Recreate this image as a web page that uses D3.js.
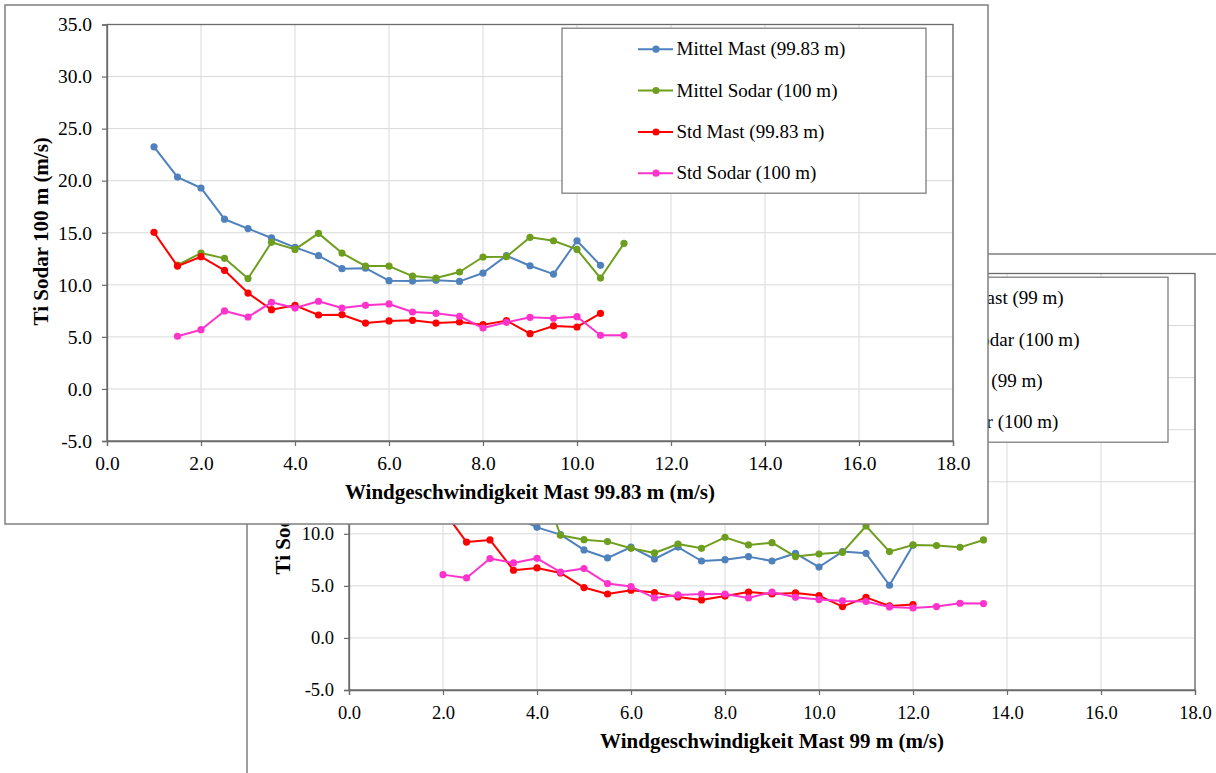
<!DOCTYPE html>
<html>
<head>
<meta charset="utf-8">
<script src="https://cdn.jsdelivr.net/npm/d3@7"></script>
<style>
  html, body { margin: 0; padding: 0; background: #ffffff; }
  svg { display: block; }
  text { font-family: "Liberation Serif", "Times New Roman", serif; fill: #000; }
</style>
</head>
<body>
<svg id="chart" width="1216" height="773"></svg>
<script>
// ---------- tick values ----------
const xTickValues = [0, 2, 4, 6, 8, 10, 12, 14, 16, 18];
const yTickValues = [-5, 0, 5, 10, 15, 20, 25, 30, 35];

// ---------- front chart (Mast 99.83 m) ----------
const frontMastMittelX = [1.0,1.5,2.0,2.5,3.0,3.5,4.0,4.5,5.0,5.5,6.0,6.5,7.0,7.5,8.0,8.5,9.0,9.5,10.0,10.5];
const frontMastMittelY = [23.25,20.35,19.3,16.3,15.4,14.5,13.6,12.8,11.55,11.6,10.4,10.36,10.45,10.33,11.13,12.8,11.83,11.03,14.23,11.87];
const frontSodarMittelX = [1.5,2.0,2.5,3.0,3.5,4.0,4.5,5.0,5.5,6.0,6.5,7.0,7.5,8.0,8.5,9.0,9.5,10.0,10.5,11.0];
const frontSodarMittelY = [11.9,13.05,12.54,10.6,14.08,13.4,14.94,13.05,11.8,11.8,10.84,10.65,11.23,12.67,12.7,14.56,14.23,13.4,10.65,13.98];
const frontMastStdX = [1.0,1.5,2.0,2.5,3.0,3.5,4.0,4.5,5.0,5.5,6.0,6.5,7.0,7.5,8.0,8.5,9.0,9.5,10.0,10.5];
const frontMastStdY = [15.04,11.8,12.7,11.39,9.21,7.61,8.03,7.1,7.13,6.33,6.53,6.59,6.33,6.43,6.17,6.56,5.31,6.05,5.95,7.26];
const frontSodarStdX = [1.5,2.0,2.5,3.0,3.5,4.0,4.5,5.0,5.5,6.0,6.5,7.0,7.5,8.0,8.5,9.0,9.5,10.0,10.5,11.0];
const frontSodarStdY = [5.06,5.69,7.49,6.91,8.32,7.77,8.42,7.77,8.03,8.16,7.39,7.26,6.98,5.85,6.4,6.88,6.79,6.94,5.15,5.15];
const frontLegendLabels = ["Mittel Mast (99.83 m)", "Mittel Sodar (100 m)", "Std Mast (99.83 m)", "Std Sodar (100 m)"];
const frontXTitle = "Windgeschwindigkeit Mast 99.83 m (m/s)";

// ---------- back chart (Mast 99 m) ----------
const backMastMittelX = [2.0,2.5,3.0,3.5,4.0,4.5,5.0,5.5,6.0,6.5,7.0,7.5,8.0,8.5,9.0,9.5,10.0,10.5,11.0,11.5,12.0];
const backMastMittelY = [19.0,16.5,14.0,11.7,10.62,9.92,8.45,7.68,8.73,7.58,8.73,7.39,7.52,7.81,7.39,8.13,6.81,8.29,8.13,5.06,8.9];
const backSodarMittelX = [2.0,2.5,3.0,3.5,4.0,4.5,5.0,5.5,6.0,6.5,7.0,7.5,8.0,8.5,9.0,9.5,10.0,10.5,11.0,11.5,12.0,12.5,13.0,13.5];
const backSodarMittelY = [14.5,13.0,12.0,13.5,16.2,9.86,9.44,9.25,8.61,8.16,9.02,8.61,9.66,8.93,9.15,7.81,8.06,8.22,10.75,8.29,8.93,8.87,8.7,9.41];
const backMastStdX = [2.0,2.5,3.0,3.5,4.0,4.5,5.0,5.5,6.0,6.5,7.0,7.5,8.0,8.5,9.0,9.5,10.0,10.5,11.0,11.5,12.0];
const backMastStdY = [12.3,9.21,9.41,6.5,6.72,6.24,4.84,4.22,4.58,4.36,3.94,3.65,4.02,4.41,4.22,4.32,4.07,3.01,3.9,3.07,3.2];
const backSodarStdX = [2.0,2.5,3.0,3.5,4.0,4.5,5.0,5.5,6.0,6.5,7.0,7.5,8.0,8.5,9.0,9.5,10.0,10.5,11.0,11.5,12.0,12.5,13.0,13.5];
const backSodarStdY = [6.08,5.76,7.62,7.2,7.65,6.33,6.66,5.22,4.93,3.84,4.13,4.22,4.22,3.84,4.41,3.9,3.68,3.55,3.49,2.98,2.88,3.01,3.33,3.3];
const backLegendLabels = ["Mittel Mast (99 m)", "Mittel Sodar (100 m)", "Std Mast (99 m)", "Std Sodar (100 m)"];
const backXTitle = "Windgeschwindigkeit Mast 99 m (m/s)";

const yTitle = "Ti Sodar 100 m (m/s)";
const seriesColors = ["#4F81BD", "#6E9E1E", "#FF0000", "#FF33CC"];

// ---------- drawing ----------
const svg = d3.select("#chart");

function zip(xs, ys) { return xs.map((x, i) => ({ x: x, y: ys[i] })); }

function drawPanel(px, py, panelH, series, legendLabels, xTitle, tickFont) {
  const W = 983, H = panelH;
  const m = { left: 102, top: 19.5 };
  const pw = 846, ph = 416.5;
  const g = svg.append("g").attr("transform", `translate(${px},${py})`);

  g.append("rect").attr("x", 0).attr("y", 0).attr("width", W).attr("height", H)
    .attr("fill", "#ffffff").attr("stroke", "#7f7f7f").attr("stroke-width", 1.5);

  const x = d3.scaleLinear().domain([0, 18]).range([0, pw]);
  const y = d3.scaleLinear().domain([-5, 35]).range([ph, 0]);

  const plot = g.append("g").attr("transform", `translate(${m.left},${m.top})`);

  // gridlines
  plot.append("g").selectAll("line.v").data(xTickValues).join("line")
    .attr("x1", d => x(d)).attr("x2", d => x(d)).attr("y1", 0).attr("y2", ph)
    .attr("stroke", "#d9d9d9").attr("stroke-width", 1);
  plot.append("g").selectAll("line.h").data(yTickValues).join("line")
    .attr("x1", 0).attr("x2", pw).attr("y1", d => y(d)).attr("y2", d => y(d))
    .attr("stroke", "#d9d9d9").attr("stroke-width", 1);

  // plot border
  plot.append("rect").attr("x", 0).attr("y", 0).attr("width", pw).attr("height", ph)
    .attr("fill", "none").attr("stroke", "#6b6b6b").attr("stroke-width", 1.3);

  // axes
  const fmt = d3.format(".1f");
  const xAxis = plot.append("g").attr("transform", `translate(0,${ph})`)
    .call(d3.axisBottom(x).tickValues(xTickValues).tickFormat(d => fmt(d).replace("\u2212", "-")).tickSize(5).tickPadding(10.5));
  const yAxis = plot.append("g")
    .call(d3.axisLeft(y).tickValues(yTickValues).tickFormat(d => fmt(d).replace("\u2212", "-")).tickSize(5).tickPadding(10));
  [xAxis, yAxis].forEach(a => {
    a.select(".domain").attr("stroke", "#6b6b6b").attr("stroke-width", 1.3);
    a.selectAll(".tick line").attr("stroke", "#6b6b6b").attr("stroke-width", 1.2);
    a.selectAll(".tick text").attr("font-family", '"Liberation Serif", "Times New Roman", serif')
      .attr("font-size", tickFont).attr("fill", "#000");
  });

  // titles
  plot.append("text").attr("x", pw / 2).attr("y", ph + 58)
    .attr("text-anchor", "middle").attr("font-size", 21).attr("font-weight", "bold").text(xTitle);
  plot.append("text").attr("transform", `translate(-59,${ph / 2 - 1.5}) rotate(-90)`)
    .attr("text-anchor", "middle").attr("font-size", 21).attr("font-weight", "bold").text(yTitle);

  // series
  const line = d3.line().x(d => x(d.x)).y(d => y(d.y));
  series.forEach((s, i) => {
    const data = zip(s[0], s[1]);
    const sg = plot.append("g");
    sg.append("path").datum(data).attr("d", line).attr("fill", "none")
      .attr("stroke", seriesColors[i]).attr("stroke-width", 2).attr("stroke-linejoin", "round");
    sg.selectAll("circle").data(data).join("circle")
      .attr("cx", d => x(d.x)).attr("cy", d => y(d.y)).attr("r", 3.6).attr("fill", seriesColors[i]);
  });

  // legend
  const lg = plot.append("g").attr("transform", `translate(455,3.7)`);
  lg.append("rect").attr("width", 364).attr("height", 165)
    .attr("fill", "#ffffff").attr("stroke", "#7f7f7f").attr("stroke-width", 1.3);
  const rows = [21, 62.3, 103.8, 145];
  legendLabels.forEach((lab, i) => {
    const r = lg.append("g").attr("transform", `translate(0,${rows[i]})`);
    r.append("line").attr("x1", 76).attr("x2", 111).attr("y1", 0).attr("y2", 0)
      .attr("stroke", seriesColors[i]).attr("stroke-width", 2);
    r.append("circle").attr("cx", 94).attr("cy", 0).attr("r", 3.6).attr("fill", seriesColors[i]);
    r.append("text").attr("x", 114.5).attr("y", 0).attr("dy", "0.33em")
      .attr("font-size", 19).text(lab);
  });
}

// back panel first (extends beyond the bottom/right edges of the window)
drawPanel(247, 254, 540, [
  [backMastMittelX, backMastMittelY],
  [backSodarMittelX, backSodarMittelY],
  [backMastStdX, backMastStdY],
  [backSodarStdX, backSodarStdY]
], backLegendLabels, backXTitle, 18.5);

// front panel on top
drawPanel(5, 5, 519, [
  [frontMastMittelX, frontMastMittelY],
  [frontSodarMittelX, frontSodarMittelY],
  [frontMastStdX, frontMastStdY],
  [frontSodarStdX, frontSodarStdY]
], frontLegendLabels, frontXTitle, 19.5);
</script>
</body>
</html>
